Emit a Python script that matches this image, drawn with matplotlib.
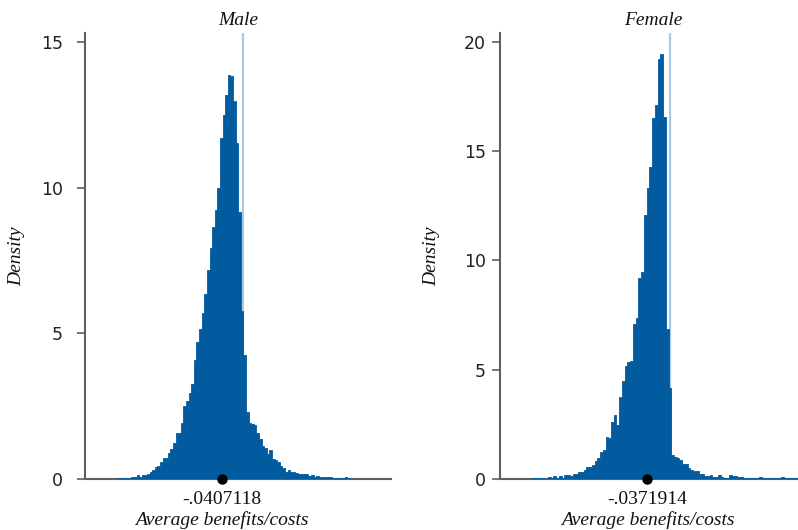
import matplotlib
matplotlib.use("Agg")
import matplotlib.pyplot as plt
import numpy as np

# histogram densities, left to right
MALE_DENSITY = [
    0.015, 0.01, 0.01, 0.01, 0.015, 0.01, 0.015, 0.015, 0.015, 0.02,
    0.035, 0.035, 0.035, 0.035, 0.07, 0.07, 0.14, 0.07, 0.14, 0.14,
    0.17, 0.23, 0.32, 0.40, 0.46, 0.57, 0.72, 0.72, 0.88, 1.03,
    1.22, 1.58, 1.58, 1.93, 2.50, 2.67, 2.95, 3.25, 4.07, 4.70,
    5.14, 5.70, 6.36, 7.16, 7.92, 8.66, 9.23, 10.0, 11.7, 12.5,
    13.18, 13.87, 13.85, 12.98, 11.53, 9.17, 5.76, 4.27, 2.29, 1.93,
    1.88, 1.87, 1.57, 1.38, 1.14, 1.08, 0.87, 1.00, 0.70, 0.66,
    0.60, 0.46, 0.39, 0.25, 0.32, 0.25, 0.25, 0.22, 0.18, 0.18,
    0.18, 0.18, 0.11, 0.15, 0.08, 0.11, 0.08, 0.08, 0.08, 0.08,
    0.08, 0.046, 0.046, 0.046, 0.023, 0.023, 0.057, 0.034, 0.015, 0.015,
    0.015, 0.015, 0.015, 0.015, 0.015, 0.015, 0.015, 0.015, 0.015, 0.015,
]
FEMALE_DENSITY = [
    0.03, 0.03, 0.03, 0.015, 0.046, 0.02, 0.09, 0.05, 0.15, 0.05,
    0.12, 0.05, 0.20, 0.20, 0.15, 0.23, 0.23, 0.34, 0.34, 0.40,
    0.55, 0.55, 0.64, 0.84, 0.96, 1.24, 1.33, 1.92, 1.86, 2.60,
    2.93, 2.47, 3.77, 4.48, 5.17, 5.35, 5.41, 7.09, 7.35, 9.20,
    9.47, 12.08, 13.3, 14.3, 16.5, 17.1, 19.2, 19.45, 16.57, 6.86,
    4.18, 1.10, 1.02, 0.97, 0.85, 0.70, 0.70, 0.50, 0.40, 0.37,
    0.37, 0.24, 0.24, 0.12, 0.12, 0.17, 0.09, 0.09, 0.17, 0.09,
    0.06, 0.06, 0.20, 0.12, 0.12, 0.09, 0.09, 0.06, 0.03, 0.03,
    0.03, 0.03, 0.03, 0.09, 0.03, 0.03, 0.03, 0.03, 0.03, 0.03,
    0.03, 0.08, 0.03, 0.03, 0.03, 0.03, 0.03,
]
MALE_BIN_START, MALE_BIN_WIDTH = -0.285, 0.005
FEMALE_BIN_START, FEMALE_BIN_WIDTH = -0.2286, 0.00453
MALE_MEAN = -0.0407118
FEMALE_MEAN = -0.0371914
MALE_YTICKS = [0, 5, 10, 15]
FEMALE_YTICKS = [0, 5, 10, 15, 20]

BAR = "#015b9e"
REF = "#a9c9e6"
AXC = "#5f5f5f"
SERIF_IT = dict(family="Liberation Serif", style="italic", size=14, color="#111111")

fig = plt.figure(figsize=(7.98, 5.30), dpi=100)


def panel(rect, dens, start, width, mean, yticks, ylim, xlim, title, ypad, xlab_x, ylab_x):
    ax = fig.add_axes(rect)
    edges = start + width * np.arange(len(dens) + 1)
    ax.stairs(dens, edges, fill=True, facecolor=BAR, edgecolor=BAR, linewidth=0.6, zorder=3)
    ax.axvline(0, color=REF, lw=1.6, zorder=1)
    ax.plot([mean], [0], "o", color="black", ms=6.5, clip_on=False, zorder=6)
    ax.set_xlim(*xlim); ax.set_ylim(*ylim)
    ax.set_xticks([mean])
    ax.set_xticklabels([f"{mean:.7f}".replace("0.", ".", 1)],
                       family="Liberation Serif", size=14, color="#111111")
    ax.tick_params(axis="x", length=0, pad=9)
    ax.set_yticks(yticks)
    ax.set_yticklabels([str(t) for t in yticks], family="DejaVu Sans", size=12.5, color="#222222")
    ax.tick_params(axis="y", length=6, width=1.2, color=AXC, pad=ypad)
    for s in ("top", "right"):
        ax.spines[s].set_visible(False)
    for s in ("left", "bottom"):
        ax.spines[s].set_color(AXC); ax.spines[s].set_linewidth(1.5)
    ax.set_title(title, pad=6, **SERIF_IT)
    ax.set_ylabel("Density", **SERIF_IT)
    ax.yaxis.set_label_coords(ylab_x, 0.5)
    ax.set_xlabel("Average benefits/costs", **SERIF_IT)
    ax.xaxis.set_label_coords(xlab_x, -0.073)
    return ax


panel([85 / 798, 51 / 530, 306 / 798, 446 / 530], MALE_DENSITY, MALE_BIN_START, MALE_BIN_WIDTH,
      MALE_MEAN, MALE_YTICKS, (0, 15.31), (-0.3044, 0.2840), "Male", 10, 0.448, -0.196)
panel([500 / 798, 51 / 530, 307 / 798, 446 / 530], FEMALE_DENSITY, FEMALE_BIN_START, FEMALE_BIN_WIDTH,
      FEMALE_MEAN, FEMALE_YTICKS, (0, 20.41), (-0.2807, 0.2268), "Female", 4, 0.482, -0.195)

fig.savefig("out.png", dpi=100)
plt.close(fig)
